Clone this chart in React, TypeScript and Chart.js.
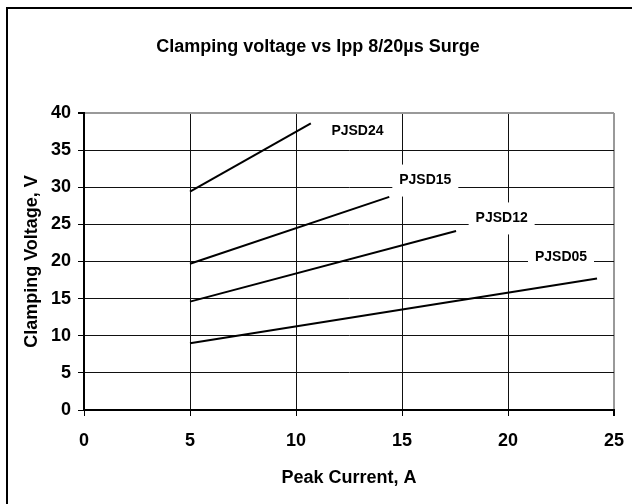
import React, { useEffect, useRef } from 'react';
import { Chart, registerables } from 'chart.js';

Chart.register(...registerables);

// ---- data ----
const seriesNames = ['PJSD24', 'PJSD15', 'PJSD12', 'PJSD05'];
const currentStart = [5, 5, 5, 5];
const currentEnd = [10.7, 14.4, 17.55, 24.2];
const voltageStart = [29.4, 19.7, 14.6, 9.0];
const voltageEnd = [38.6, 28.7, 24.1, 17.7];
// label anchors (in data units)
const labelCurrent = [12.9, 16.1, 19.7, 22.5];
const labelVoltage = [37.6, 30.9, 25.8, 20.6];
const xTickValues = [0, 5, 10, 15, 20, 25];
const yTickValues = [0, 5, 10, 15, 20, 25, 30, 35, 40];

const titleText = 'Clamping voltage vs Ipp 8/20µs Surge';
const xTitle = 'Peak Current, A';
const yTitle = 'Clamping Voltage, V';

const FONT = "'Liberation Sans', Arial, Helvetica, sans-serif";

const decorPlugin = {
  id: 'decor',
  beforeDraw(chart: any) {
    const { ctx, width, height } = chart;
    ctx.save();
    ctx.fillStyle = '#fff';
    ctx.fillRect(0, 0, width, height);
    ctx.strokeStyle = '#000';
    ctx.lineWidth = 2;
    ctx.beginPath();
    ctx.moveTo(7, height + 2);
    ctx.lineTo(7, 8);
    ctx.lineTo(width + 2, 8);
    ctx.stroke();
    ctx.fillStyle = '#000';
    ctx.font = `bold 18px ${FONT}`;
    ctx.textAlign = 'center';
    ctx.textBaseline = 'middle';
    ctx.fillText(titleText, 318, 47);
    ctx.restore();
  },
  beforeDatasetsDraw(chart: any) {
    const { ctx } = chart;
    const xs = chart.scales.x;
    const ys = chart.scales.y;
    ctx.save();
    ctx.font = `bold 14px ${FONT}`;
    ctx.textAlign = 'center';
    ctx.textBaseline = 'middle';
    seriesNames.forEach((name, i) => {
      const px = xs.getPixelForValue(labelCurrent[i]);
      const py = ys.getPixelForValue(labelVoltage[i]);
      ctx.fillStyle = '#fff';
      ctx.fillRect(px - 33, py - 16, 66, 32);
      ctx.fillStyle = '#000';
      ctx.fillText(name, px, py);
    });
    ctx.restore();
  },
};

export default function App() {
  const ref = useRef<HTMLCanvasElement>(null);
  useEffect(() => {
    if (!ref.current) return;
    const datasets = seriesNames.map((name, i) => ({
      label: name,
      data: [
        { x: currentStart[i], y: voltageStart[i] },
        { x: currentEnd[i], y: voltageEnd[i] },
      ],
      borderColor: '#000',
      borderWidth: 2,
      pointRadius: 0,
      fill: false,
      tension: 0,
    }));
    const chart = new Chart(ref.current, {
      type: 'line',
      data: { datasets },
      options: {
        animation: false,
        responsive: false,
        devicePixelRatio: 1,
        layout: { padding: { top: 113, right: 18, left: 0, bottom: 0 } },
        plugins: { legend: { display: false }, tooltip: { enabled: false }, title: { display: false } },
        scales: {
          x: {
            type: 'linear',
            min: 0,
            max: 25,
            afterBuildTicks: (s: any) => { s.ticks = xTickValues.map((v) => ({ value: v })); },
            afterFit: (s: any) => { s.height = 94; s.paddingLeft = 0; s.paddingRight = 0; },
            ticks: { color: '#000', font: { family: FONT, size: 18, weight: 'bold' }, padding: 14, maxRotation: 0 },
            grid: {
              color: (c: any) => (c.tick && c.tick.value === 25 ? '#999' : '#111'),
              lineWidth: (c: any) => (c.tick && c.tick.value === 25 ? 2 : 1),
              tickColor: '#000',
              tickLength: 6,
              drawTicks: true,
            },
            border: { color: '#000', width: 2 },
            title: { display: true, text: xTitle, color: '#000', font: { family: FONT, size: 18, weight: 'bold' }, padding: { top: 0, bottom: 15 } },
          },
          y: {
            type: 'linear',
            min: 0,
            max: 40,
            afterBuildTicks: (s: any) => { s.ticks = yTickValues.map((v) => ({ value: v })); },
            afterFit: (s: any) => { s.width = 84; },
            ticks: { color: '#000', font: { family: FONT, size: 18, weight: 'bold' }, padding: 7 },
            grid: {
              color: (c: any) => (c.tick && c.tick.value === 40 ? '#999' : '#111'),
              lineWidth: (c: any) => (c.tick && c.tick.value === 40 ? 2 : 1),
              tickColor: '#000',
              tickLength: 6,
              drawTicks: true,
            },
            border: { color: '#000', width: 2 },
            title: { display: true, text: yTitle, color: '#000', font: { family: FONT, size: 18, weight: 'bold' }, padding: { top: 21, bottom: 0 } },
          },
        },
      },
      plugins: [decorPlugin],
    });
    return () => chart.destroy();
  }, []);
  return (
    <div style={{ position: 'absolute', left: 0, top: 0, width: 632, height: 504 }}>
      <canvas ref={ref} width={632} height={504} />
    </div>
  );
}
